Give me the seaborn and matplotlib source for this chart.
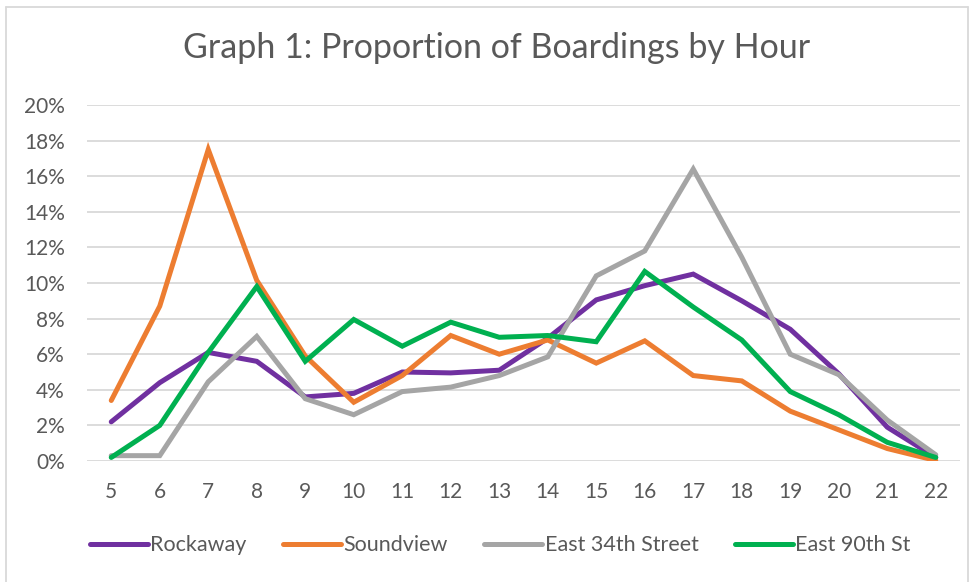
import numpy as np
import pandas as pd
import matplotlib
matplotlib.use("Agg")
import matplotlib.pyplot as plt
from matplotlib.lines import Line2D
from matplotlib.ticker import FuncFormatter, MultipleLocator
import seaborn as sns

hours = list(range(5, 23))
rockaway = [2.2, 4.4, 6.1, 5.6, 3.6, 3.8, 5.0, 4.95, 5.1, 6.9, 9.05, 9.85, 10.5, 9.0, 7.4, 4.9, 1.9, 0.2]
soundview = [3.4, 8.7, 17.5, 10.15, 5.9, 3.3, 4.8, 7.05, 6.0, 6.8, 5.5, 6.75, 4.8, 4.5, 2.8, 1.75, 0.7, 0.03]
east34 = [0.3, 0.3, 4.45, 7.0, 3.5, 2.6, 3.9, 4.15, 4.8, 5.85, 10.4, 11.8, 16.4, 11.45, 6.0, 4.85, 2.3, 0.35]
east90 = [0.2, 2.0, 6.1, 9.8, 5.6, 7.95, 6.45, 7.8, 6.95, 7.05, 6.7, 10.65, 8.65, 6.8, 3.9, 2.6, 1.05, 0.2]

routes = ["Rockaway", "Soundview", "East 34th Street", "East 90th St"]
colors = ["#7030A0", "#ED7D31", "#A5A5A5", "#00B050"]

df = pd.DataFrame({
    "hour": hours * 4,
    "share": rockaway + soundview + east34 + east90,
    "route": [r for r in routes for _ in hours],
})

sns.set_style("white")
plt.rcParams["font.family"] = ["Lato", "DejaVu Sans"]
text_color = "#595959"

fig = plt.figure(figsize=(9.79, 5.82), dpi=100)
ax = fig.add_axes([87 / 979, 121 / 582, 873 / 979, 356 / 582])

sns.lineplot(data=df, x="hour", y="share", hue="route", hue_order=routes,
             palette=colors, linewidth=3.6, ax=ax, legend=False,
             solid_capstyle="round", solid_joinstyle="miter")

ax.set_xlim(4.5, 22.5)
ax.set_ylim(0, 20)
ax.set_xticks(hours)
ax.yaxis.set_major_locator(MultipleLocator(2))
ax.yaxis.set_major_formatter(FuncFormatter(lambda v, _: f"{v:.0f}%"))
ax.grid(axis="y", color="#D9D9D9", linewidth=1.3)
ax.set_axisbelow(True)
for s in ax.spines.values():
    s.set_visible(False)
ax.tick_params(axis="both", length=0, labelsize=15, colors=text_color)
ax.tick_params(axis="x", pad=15)
ax.tick_params(axis="y", pad=16)
ax.set_xlabel("")
ax.set_ylabel("")

fig.text(0.507, 0.917, "Graph 1: Proportion of Boardings by Hour",
         ha="center", va="center", fontsize=24.5, color=text_color)

handles = [Line2D([0], [0], color=c, linewidth=3.6, solid_capstyle="round") for c in colors]
fig.legend(handles, routes, loc="center", bbox_to_anchor=(0.511, 0.063), ncol=4,
           frameon=False, fontsize=15.5, handlelength=2.7, handletextpad=0.1,
           columnspacing=1.7, labelcolor=text_color)

# light chart-area border (left, top, right)
border = dict(color="#D9D9D9", linewidth=1.3, transform=fig.transFigure)
fig.add_artist(Line2D([6 / 979, 6 / 979], [0, 1 - 7 / 582], **border))
fig.add_artist(Line2D([6 / 979, 968 / 979], [1 - 7 / 582, 1 - 7 / 582], **border))
fig.add_artist(Line2D([968 / 979, 968 / 979], [0, 1 - 7 / 582], **border))

fig.savefig("out.png", dpi=100)
